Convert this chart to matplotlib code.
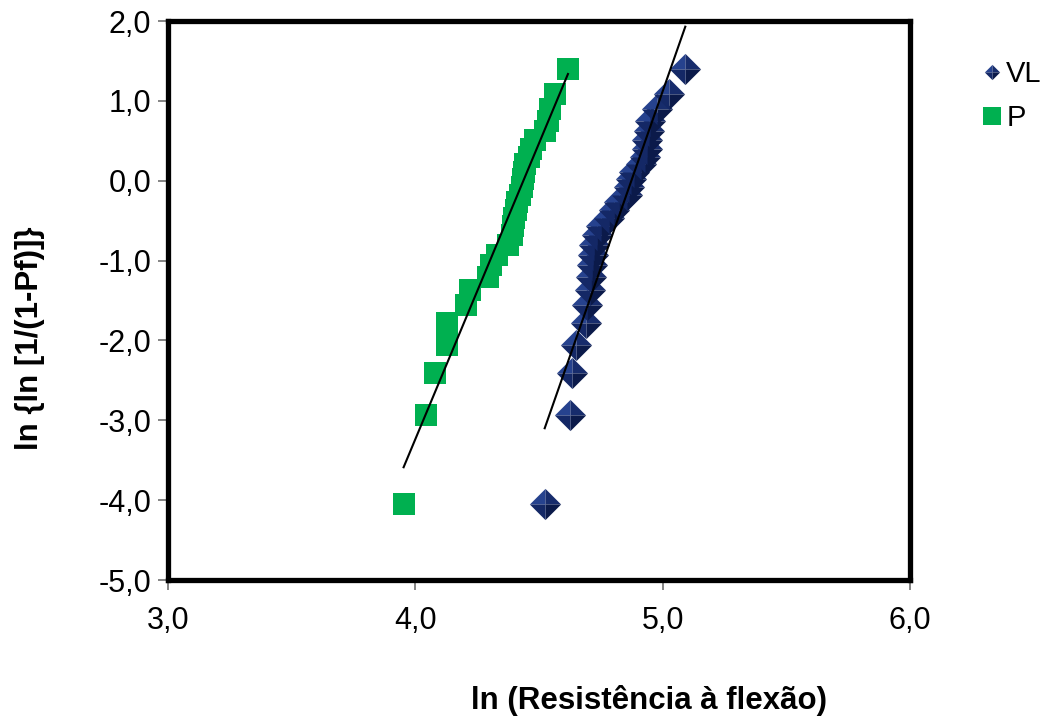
import numpy as np
import matplotlib
matplotlib.use("Agg")
import matplotlib.pyplot as plt
from matplotlib.lines import Line2D
from matplotlib.legend_handler import HandlerTuple

plt.rcParams['font.family'] = ['Liberation Sans', 'DejaVu Sans']

# Weibull plot: ln{ln[1/(1-Pf)]} vs ln(strength)
y_weibull = [-4.052, -2.935, -2.406, -2.051, -1.780, -1.559, -1.371, -1.207,
             -1.059, -0.924, -0.800, -0.683, -0.573, -0.468, -0.367, -0.268,
             -0.173, -0.078, 0.016, 0.110, 0.205, 0.302, 0.403, 0.508,
             0.622, 0.749, 0.897, 1.086, 1.401]

x_vl = [4.523, 4.626, 4.635, 4.651, 4.690, 4.692, 4.705, 4.710, 4.716, 4.720,
        4.724, 4.736, 4.750, 4.783, 4.804, 4.824, 4.855, 4.862, 4.870, 4.884,
        4.911, 4.928, 4.935, 4.938, 4.945, 4.950, 4.978, 5.026, 5.091]

x_p = [3.953, 4.043, 4.080, 4.128, 4.130, 4.206, 4.223, 4.292, 4.305, 4.332,
       4.375, 4.390, 4.395, 4.400, 4.408, 4.412, 4.425, 4.432, 4.436, 4.440,
       4.445, 4.460, 4.468, 4.482, 4.525, 4.535, 4.546, 4.566, 4.617]

series_labels = ["VL", "P"]
xticks = [3.0, 4.0, 5.0, 6.0]
yticks = [-5.0, -4.0, -3.0, -2.0, -1.0, 0.0, 1.0, 2.0]

W, H = 1047, 722
fig = plt.figure(figsize=(W / 100, H / 100), dpi=100)
ax = fig.add_axes([167.7 / W, 1 - 580 / H, (910.3 - 167.7) / W, (580 - 21) / H])
ax.set_xlim(3, 6)
ax.set_ylim(-5, 2)

# pyramid-shaded diamond faces
faces = {
    'ul': ([(0, 0), (-1, 0), (0, 1), (0, 0)], '#26428e'),
    'ur': ([(0, 0), (0, 1), (1, 0), (0, 0)], '#172c6c'),
    'lr': ([(0, 0), (1, 0), (0, -1), (0, 0)], '#0b1a4a'),
    'll': ([(0, 0), (0, -1), (-1, 0), (0, 0)], '#142866'),
}
face_order = ['ul', 'ur', 'lr', 'll']
DSIZE = 22.5
for xi, yi in zip(x_vl, y_weibull):
    for key in face_order:
        verts, col = faces[key]
        ax.plot([xi], [yi], linestyle='none', marker=verts, markersize=DSIZE,
                color=col, markeredgewidth=0, zorder=3, clip_on=False)

ax.plot(x_p, y_weibull, linestyle='none', marker='s', markersize=15.8,
        color='#00b050', markeredgewidth=0, zorder=3, clip_on=False)

# linear trendlines over the data range
for xs in (x_vl, x_p):
    xs = np.asarray(xs)
    k, b = np.polyfit(xs, y_weibull, 1)
    xx = np.array([xs.min(), xs.max()])
    ax.plot(xx, k * xx + b, color='black', linewidth=1.5, zorder=4)

ax.set_xticks(xticks)
ax.set_yticks(yticks)
ax.set_xticklabels([f"{v:.1f}".replace('.', ',') for v in xticks])
ax.set_yticklabels([f"{v:.1f}".replace('.', ',') for v in yticks])
ax.tick_params(axis='both', direction='out', length=7, width=1.2,
               color='#707070', labelsize=22, labelcolor='black')
ax.tick_params(axis='x', pad=12)
ax.tick_params(axis='y', pad=5)
for sp in ax.spines.values():
    sp.set_linewidth(3.8)
    sp.set_color('black')
    sp.set_capstyle('projecting')

fig.text(649 / W, 1 - 700 / H, "ln (Resistência à flexão)", ha='center',
         va='center', fontsize=22.5, fontweight='bold')
fig.text(30 / W, 1 - 338 / H, "ln {ln [1/(1-Pf)]}", ha='center', va='center',
         rotation=90, fontsize=22.5, fontweight='bold')

# legend
leg_faces = tuple(
    Line2D([], [], linestyle='none', marker=faces[k][0], markersize=11,
           color=faces[k][1], markeredgewidth=0)
    for k in face_order)
leg_sq = Line2D([], [], linestyle='none', marker='s', markersize=13.5,
                color='#00b050', markeredgewidth=0)
leg = fig.legend([leg_faces, leg_sq], series_labels,
                 handler_map={tuple: HandlerTuple(ndivide=1)},
                 loc='upper left', bbox_to_anchor=(980 / W, 1 - 60 / H),
                 frameon=False, fontsize=21, handlelength=0.8,
                 handletextpad=0.1, borderpad=0, borderaxespad=0,
                 labelspacing=0.55)

fig.savefig("out.png", dpi=100)
